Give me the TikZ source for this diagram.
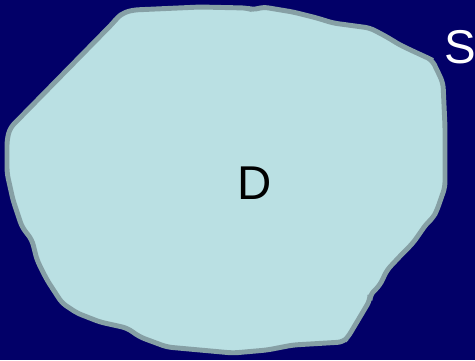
\documentclass[tikz,border=0pt]{standalone}
\usepackage{fontspec}
\setmainfont{Liberation Sans}
\usetikzlibrary{positioning}
\definecolor{NightBlue}{RGB}{2,0,104}
\definecolor{RegionFill}{RGB}{186,224,227}
\definecolor{RegionEdge}{RGB}{134,160,165}

\begin{document}
\begin{tikzpicture}[x=0.02cm,y=-0.02cm]
      \fill[NightBlue] (0,0) rectangle (475,360);
      \useasboundingbox (0,0) rectangle (475,360);
      \filldraw[fill=RegionFill,draw=RegionEdge,line width=2.8pt,rounded corners=3pt]
        (123,13)--(133,10)--(200,7)--(247,8)--(253,10)--(263,7)--(293,12)--(317,18)
        --(333,23)--(370,28)--(387,37)--(400,45)--(417,53)--(428,58)--(432,60)
        --(437,70)--(443,83)--(445,127)--(445,187)--(437,210)--(433,218)--(427,223)
        --(413,243)--(403,253)--(387,270)--(380,285)--(370,295)--(370,300)--(348,337)
        --(343,342)--(293,345)--(267,350)--(233,353)--(200,350)--(167,347)--(140,337)
        --(127,328)--(100,322)--(77,313)--(62,303)--(47,280)--(37,260)--(32,240)
        --(22,227)--(13,200)--(7,173)--(7,140)--(10,128)--(113,23)--(117,18)--cycle;
      \node[font=\fontsize{27}{30}\selectfont] (D) at (255,183) {D};
      \node[font=\fontsize{27}{30}\selectfont,text=white] (S) at (460,47) {S};
    \end{tikzpicture}
\end{document}
